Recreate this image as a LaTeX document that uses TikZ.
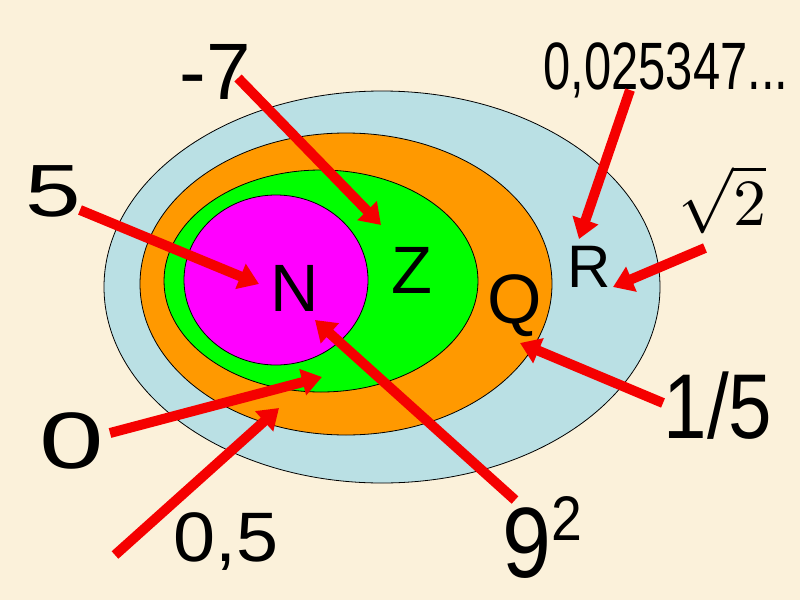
\documentclass[tikz,border=0pt]{standalone}
\usepackage{amsmath}
\usepackage{fontspec}
\setmainfont{Liberation Sans}
\usetikzlibrary{positioning, arrows.meta}
\definecolor{cream}{RGB}{251,241,218}
\definecolor{setR}{RGB}{186,224,228}
\definecolor{setQ}{RGB}{255,153,0}
\definecolor{setZ}{RGB}{0,255,0}
\definecolor{setN}{RGB}{255,0,255}
\definecolor{arrowred}{RGB}{245,0,0}
\newcommand{\lblsize}[1]{\fontsize{#1}{#1}\selectfont}

\begin{document}
\begin{tikzpicture}[x=1pt,y=-1pt,>={Triangle[length=20pt,width=26pt]}]
\tikzstyle{every node}=[inner sep=0pt,text=black]
\tikzstyle{set}=[draw=black,line width=0.8pt]
\tikzstyle{pointer}=[->,draw=arrowred,fill=arrowred,line width=10pt]

% background and the four sets
\fill[cream] (0,0) rectangle (800,600);
\draw[set,fill=setR] (382,287) ellipse [x radius=278,y radius=196];
\draw[set,fill=setQ] (346,284) ellipse [x radius=206,y radius=151];
\draw[set,fill=setZ] (321,281) ellipse [x radius=157,y radius=111];
\draw[set,fill=setN] (276,280) ellipse [x radius=92,y radius=85];

% set names
\node (N) at (295,288) {\lblsize{67}N};
\node (Z) at (412,270) {\lblsize{67}Z};
\node (Q) at (515,306) {\lblsize{70}Q};
\node (R) at (589,267) {\lblsize{60}R};

% numbers
\node (m7) at (215,72) {\lblsize{80}-7};
\node[xscale=1.35] (five) at (53,191) {\lblsize{74}5};
\node[xscale=0.73] (dec) at (666,70) {\lblsize{67}0,025347...};
\node[scale=6.6] (root) at (722,200) {$\sqrt{2}$};
\node[xscale=0.85] (fifth) at (718,406) {\lblsize{92}1/5};
\node[xscale=1.45] (zero) at (72,441) {\lblsize{80}0};
\node[xscale=1.08] (half) at (226,542) {\lblsize{70}0,5};
\node[xscale=0.88] (nine) at (542,537) {\lblsize{100}9\raisebox{37pt}{\lblsize{63}2}};

% arrow ends
\coordinate (t7) at (238,78);   \coordinate (h7) at (381,225);
\coordinate (t5) at (80,210);   \coordinate (h5) at (259,284);
\coordinate (tdec) at (630,90); \coordinate (hdec) at (579,239);
\coordinate (troot) at (705,248); \coordinate (hroot) at (613,287);
\coordinate (tfifth) at (663,403); \coordinate (hfifth) at (520,343);
\coordinate (tnine) at (515,500); \coordinate (hnine) at (315,320);
\coordinate (tzero) at (110,433); \coordinate (hzero) at (322,377);
\coordinate (thalf) at (115,555); \coordinate (hhalf) at (279,408);

\draw[pointer] (t7) -- (h7);
\draw[pointer] (t5) -- (h5);
\draw[pointer] (tdec) -- (hdec);
\draw[pointer] (troot) -- (hroot);
\draw[pointer] (tfifth) -- (hfifth);
\draw[pointer] (tnine) -- (hnine);
\draw[pointer] (tzero) -- (hzero);
\draw[pointer] (thalf) -- (hhalf);
\end{tikzpicture}
\end{document}
